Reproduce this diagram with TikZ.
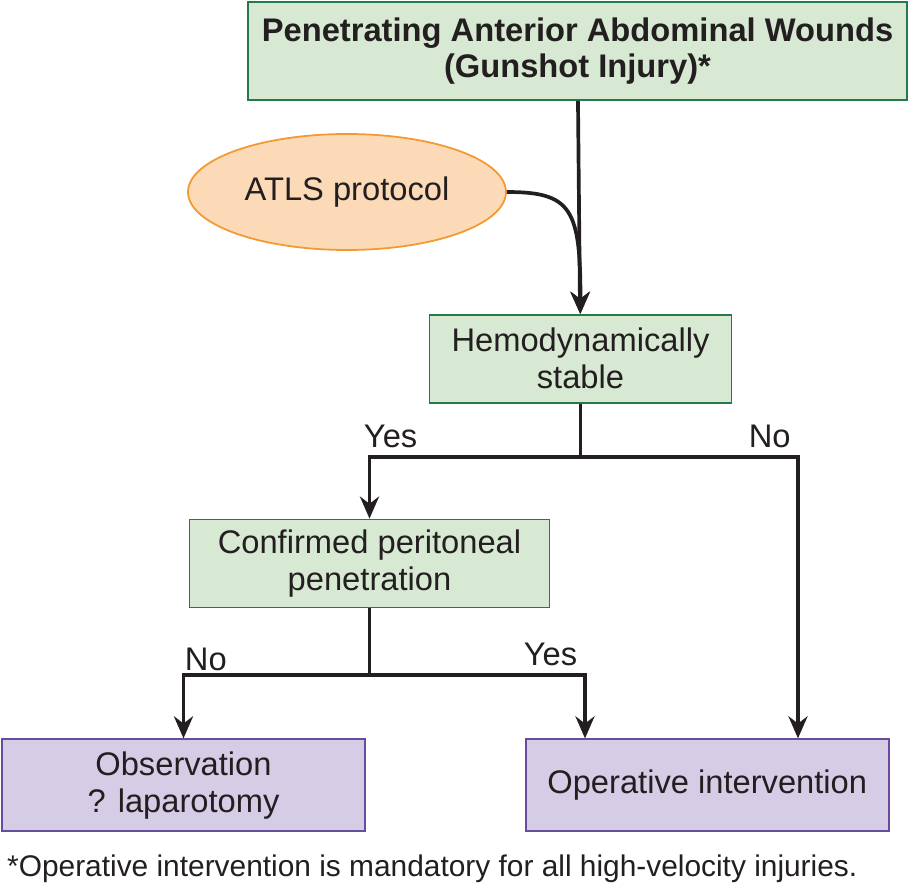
\documentclass[tikz,border=0pt]{standalone}
\usepackage{fontspec}
\setmainfont{Liberation Sans}
\usepackage{tikz}
\usetikzlibrary{shapes.geometric, arrows.meta, positioning}
\definecolor{boxgreen}{RGB}{215,233,210}
\definecolor{edgegreen}{RGB}{36,122,74}
\definecolor{boxpurple}{RGB}{213,205,230}
\definecolor{edgepurple}{RGB}{104,76,160}
\definecolor{ovalorange}{RGB}{252,218,183}
\definecolor{edgeorange}{RGB}{244,152,48}
\definecolor{inkblack}{RGB}{35,31,32}
\tikzset{
  headbox/.style={
    rectangle, minimum width=13.18cm, minimum height=1.96cm,
    draw=edgegreen, fill=boxgreen, line width=1pt, align=center,
    font=\fontsize{18.6}{20.5}\selectfont\bfseries, text=inkblack
  },
  checkbox/.style={
    rectangle, minimum height=1.76cm,
    draw=edgegreen, fill=boxgreen, line width=1pt, align=center,
    font=\fontsize{18.6}{21}\selectfont, text=inkblack
  },
  protocol/.style={
    ellipse, minimum width=6.36cm, minimum height=2.32cm, inner sep=0pt,
    draw=edgeorange, fill=ovalorange, line width=1pt,
    font=\fontsize{18.6}{21}\selectfont, text=inkblack
  },
  outcome/.style={
    rectangle, minimum width=7.26cm, minimum height=1.84cm,
    draw=edgepurple, fill=boxpurple, line width=1pt, align=center,
    font=\fontsize{18.6}{21}\selectfont, text=inkblack
  },
  answer/.style={font=\fontsize{18.6}{21}\selectfont, text=inkblack},
  arrow/.style={-{Stealth[length=0.44cm, width=0.38cm]}, line width=2.1pt, color=inkblack},
  line/.style={line width=2.1pt, color=inkblack}
}

\begin{document}
\begin{tikzpicture}
  \useasboundingbox (0,0) rectangle (18.2,-17.7);
  \node[headbox] (title) at (11.55,-1.02)
    {Penetrating Anterior Abdominal Wounds\\(Gunshot Injury)*};
  \node[protocol] (atls) at (6.94,-3.84) {ATLS protocol};
  \node[checkbox, minimum width=6.04cm, below=4.26cm of title, xshift=0.06cm] (hemo)
    {Hemodynamically\\stable};
  \node[checkbox, minimum width=7.2cm, below=2.3cm of hemo, xshift=-4.22cm] (perit)
    {Confirmed peritoneal\\penetration};
  \node[outcome, below=2.6cm of perit, xshift=-3.72cm] (observe)
    {Observation\\? laparotomy};
  \node[outcome, right=3.18cm of observe] (operate) {Operative intervention};
  \node[anchor=west, font=\fontsize{17}{20}\selectfont, text=inkblack] (footnote)
    at (0.02,-17.38) {*Operative intervention is mandatory for all high-velocity injuries.};

  \coordinate (split1) at (hemo.south |- 0,-9.14);
  \coordinate (noturn) at (15.96,-9.14);
  \coordinate (split2) at (perit.south |- 0,-13.5);
  \coordinate (yesturn) at (11.7,-13.5);

  \draw[arrow] (title) -- (hemo);
  \draw[arrow] (atls.east) .. controls +(1.3,0) and +(0,2.1) .. (hemo.north);
  \draw[line] (hemo) -- (split1);
  \draw[arrow] (split1) -| node[pos=0.45, above=1pt, answer]{Yes} (perit.north);
  \draw[arrow] (split1) -- node[pos=0.87, above=1pt, answer]{No} (noturn)
    -- (noturn |- operate.north);
  \draw[line] (perit) -- (split2);
  \draw[arrow] (split2) -| node[pos=0.44, above=-2pt, answer]{No} (observe.north);
  \draw[arrow] (split2) -- node[pos=0.84, above=1pt, answer]{Yes} (yesturn)
    -- (yesturn |- operate.north);
\end{tikzpicture}
\end{document}
